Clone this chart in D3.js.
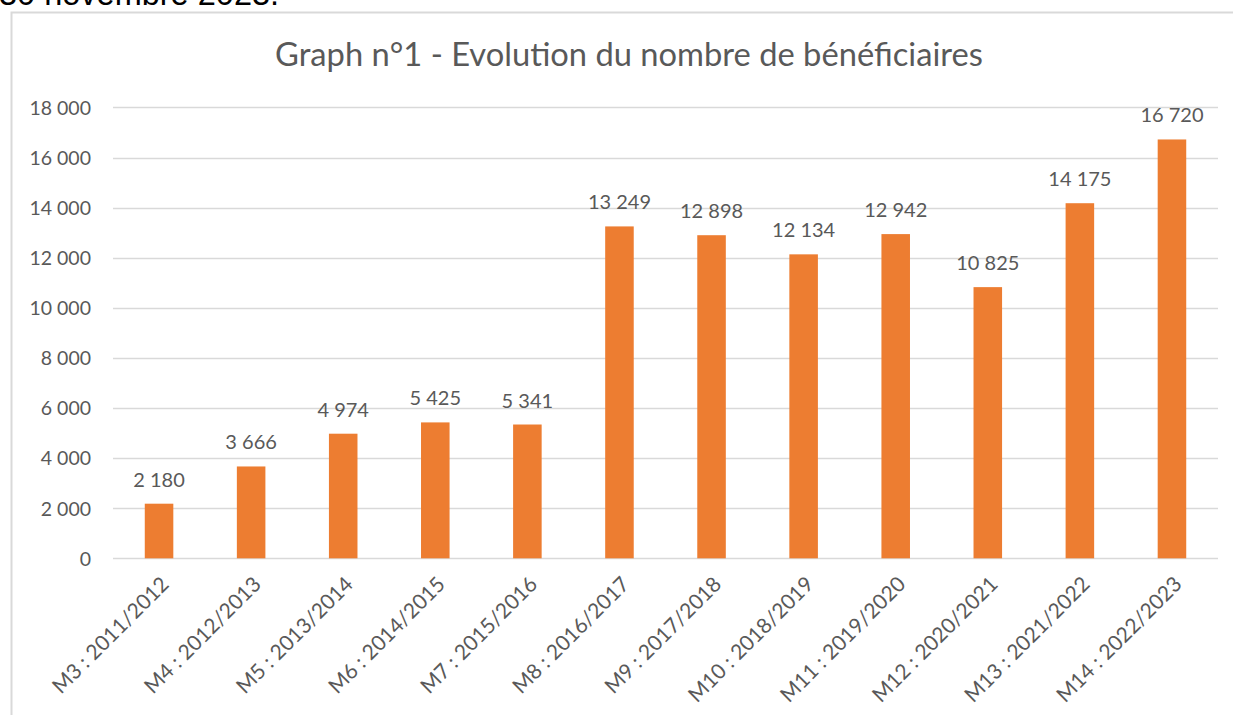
<!DOCTYPE html>
<html>
<head>
<meta charset="utf-8">
<script src="https://cdn.jsdelivr.net/npm/d3@7"></script>
<style>
  html, body { margin: 0; padding: 0; background: #fff; }
  svg { display: block; }
</style>
</head>
<body>
<svg id="chart" width="1233" height="715"></svg>
<script>
const categories = ["M3 : 2011/2012","M4 : 2012/2013","M5 : 2013/2014","M6 : 2014/2015","M7 : 2015/2016","M8 : 2016/2017","M9 : 2017/2018","M10 : 2018/2019","M11 : 2019/2020","M12 : 2020/2021","M13 : 2021/2022","M14 : 2022/2023"];
const values = [2180, 3666, 4974, 5425, 5341, 13249, 12898, 12134, 12942, 10825, 14175, 16720];
const yTicks = [0, 2000, 4000, 6000, 8000, 10000, 12000, 14000, 16000, 18000];
const titleText = "Graph n°1 - Evolution du nombre de bénéficiaires";
const headerText = "30 novembre 2023.";

(function () {
const svg = d3.select("#chart");
const font = "Lato, 'Open Sans', sans-serif";
const grey = "#595959";

// text above the chart frame (cut by the page top, as in the source)
svg.append("text").attr("x", -1).attr("y", 5)
  .attr("font-family", "'Liberation Sans', Arial, sans-serif")
  .attr("font-size", 32.5).attr("fill", "#000").text(headerText);

// chart frame
svg.append("rect").attr("x", 11.5).attr("y", 12.5).attr("width", 1240).attr("height", 720)
  .attr("fill", "#fff").attr("stroke", "#D9D9D9").attr("stroke-width", 2);

const pLeft = 113, pRight = 1218, pTop = 107.4, pBottom = 558.3;

const x = d3.scaleBand().domain(categories).range([pLeft, pRight]).paddingInner(0.69).paddingOuter(0.345);
const y = d3.scaleLinear().domain([0, 18000]).range([pBottom, pTop]);

const fmt = v => d3.format(",")(v).replace(/,/g, "\u00A0");

// gridlines
svg.append("g").selectAll("line").data(yTicks).join("line")
  .attr("x1", pLeft).attr("x2", pRight)
  .attr("y1", d => Math.round(y(d)) + 0.5).attr("y2", d => Math.round(y(d)) + 0.5)
  .attr("stroke", "#D9D9D9").attr("stroke-width", 1.5);

// y axis labels
const yAxis = svg.append("g").attr("transform", `translate(${pLeft - 22},0)`)
  .call(d3.axisLeft(y).tickValues(yTicks).tickFormat(fmt).tickSize(0).tickPadding(0));
yAxis.select(".domain").remove();
yAxis.selectAll("text").attr("font-family", font).attr("font-size", 19.5).attr("fill", grey).attr("dy", "0.35em");

// bars
svg.append("g").selectAll("rect").data(values).join("rect")
  .attr("x", (d, i) => x(categories[i]))
  .attr("width", x.bandwidth())
  .attr("y", d => y(d))
  .attr("height", d => y(0) - y(d))
  .attr("fill", "#ED7D31");

// data labels
svg.append("g").selectAll("text").data(values).join("text")
  .attr("x", (d, i) => x(categories[i]) + x.bandwidth() / 2)
  .attr("y", d => y(d) - 17)
  .attr("text-anchor", "middle")
  .attr("font-family", font).attr("font-size", 20).attr("fill", grey)
  .text(fmt);

// x axis labels
const xAxis = svg.append("g").attr("transform", `translate(0,${pBottom})`)
  .call(d3.axisBottom(x).tickSize(0).tickPadding(0));
xAxis.select(".domain").remove();
xAxis.selectAll("text")
  .attr("font-family", font).attr("font-size", 21).attr("fill", grey)
  .attr("text-anchor", "end")
  .attr("transform", "translate(6,22) rotate(-45)")
  .attr("dy", "0.35em").attr("y", 0);

// title
const title = svg.append("text").attr("x", 629).attr("y", 66)
  .attr("text-anchor", "middle").attr("font-family", font).attr("font-size", 30)
  .attr("fill", grey).text(titleText);
const tw = title.node().getComputedTextLength();
title.attr("font-size", 30 * 708 / tw);
})();
</script>
</body>
</html>
